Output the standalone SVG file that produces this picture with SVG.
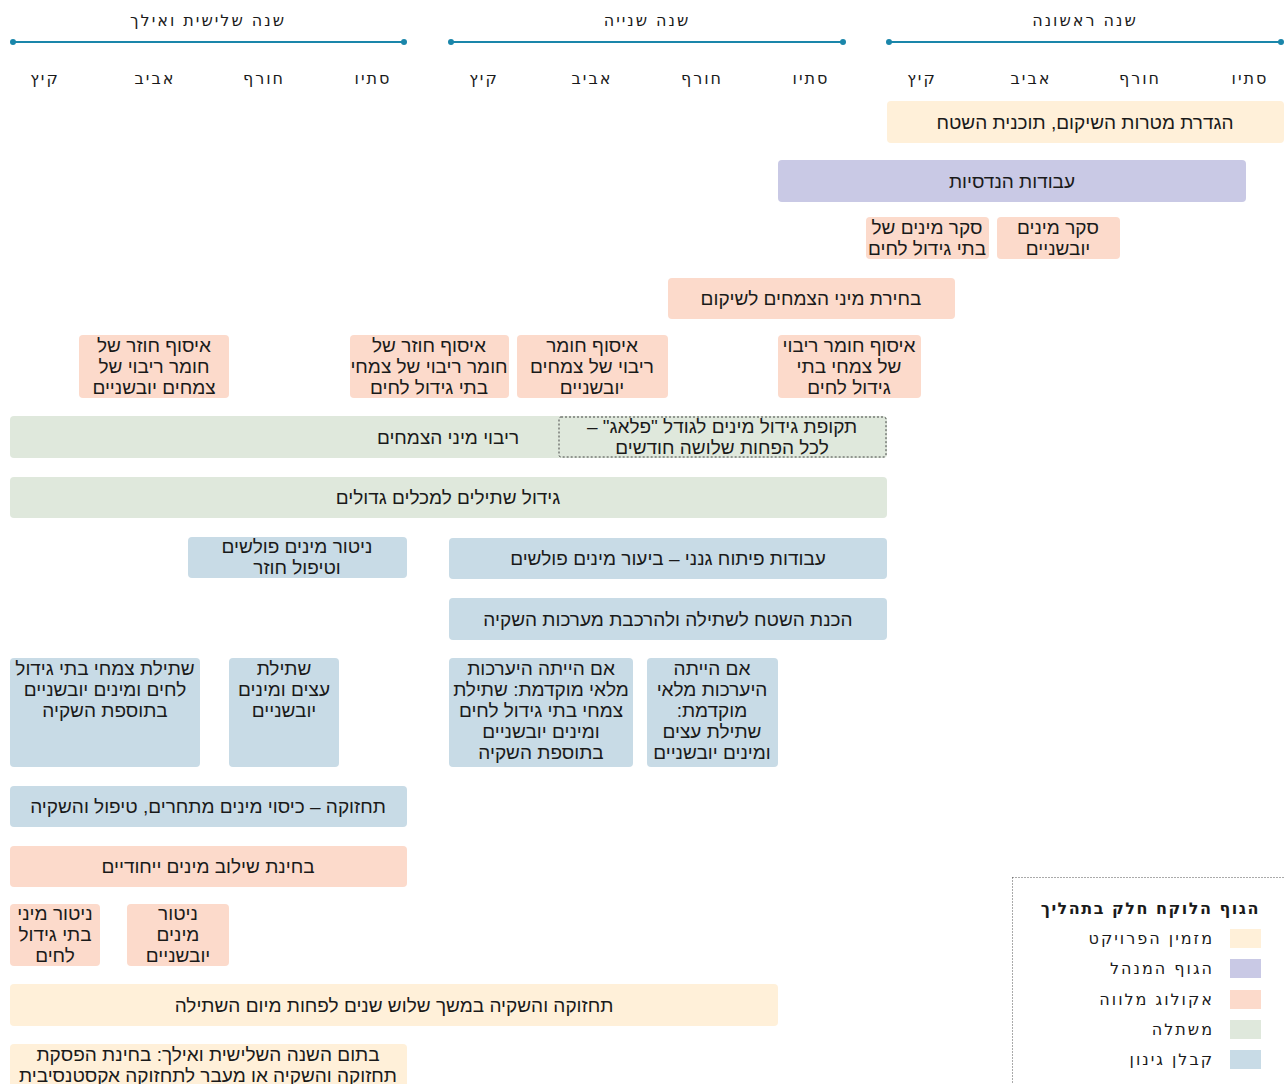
<svg xmlns="http://www.w3.org/2000/svg" width="1284" height="1084" viewBox="0 0 1284 1084">
<style>
  text { font-family: "Liberation Sans", Arial, sans-serif; font-size: 19px; fill: #1a1a1a; }
  .hdr { font-family: "DejaVu Sans", sans-serif; font-size: 16px; letter-spacing: 2px; }
  .lg { font-family: "DejaVu Sans", sans-serif; font-size: 16px; letter-spacing: 2px; }
  .lgt { font-family: "DejaVu Sans", sans-serif; font-size: 16px; letter-spacing: 1.5px; font-weight: bold; }
  .c { text-anchor: middle; }
  .tl { stroke: #1a86aa; stroke-width: 2; }
  .dot { fill: #1a86aa; }
  .cream { fill: #fff0d9; }
  .lav { fill: #c9c9e5; }
  .pink { fill: #fcdacb; }
  .green { fill: #dfe8dc; }
  .blue { fill: #c8dbe6; }
</style>

<g id="header">
  <text class="hdr c" x="208" y="26" direction="rtl">שנה שלישית ואילך</text>
  <text class="hdr c" x="647" y="26" direction="rtl">שנה שנייה</text>
  <text class="hdr c" x="1085" y="26" direction="rtl">שנה ראשונה</text>
  <line class="tl" x1="13" y1="42" x2="404" y2="42"/>
  <circle class="dot" cx="13" cy="42" r="3"/><circle class="dot" cx="404" cy="42" r="3"/>
  <line class="tl" x1="451" y1="42" x2="843" y2="42"/>
  <circle class="dot" cx="451" cy="42" r="3"/><circle class="dot" cx="843" cy="42" r="3"/>
  <line class="tl" x1="889" y1="42" x2="1281" y2="42"/>
  <circle class="dot" cx="889" cy="42" r="3"/><circle class="dot" cx="1281" cy="42" r="3"/>
  <g class="seasons">
    <text class="hdr c" x="373" y="84">סתיו</text>
    <text class="hdr c" x="264" y="84">חורף</text>
    <text class="hdr c" x="155" y="84">אביב</text>
    <text class="hdr c" x="45" y="84">קיץ</text>
    <text class="hdr c" x="811" y="84">סתיו</text>
    <text class="hdr c" x="702" y="84">חורף</text>
    <text class="hdr c" x="592" y="84">אביב</text>
    <text class="hdr c" x="484" y="84">קיץ</text>
    <text class="hdr c" x="1250" y="84">סתיו</text>
    <text class="hdr c" x="1140" y="84">חורף</text>
    <text class="hdr c" x="1031" y="84">אביב</text>
    <text class="hdr c" x="922" y="84">קיץ</text>
  </g>
</g>

<g id="connectors"></g>

<g id="n-goals">
  <rect class="cream" x="887" y="101" width="397" height="42" rx="4"/>
  <text class="c" x="1085" y="129" direction="rtl">הגדרת מטרות השיקום, תוכנית השטח</text>
</g>
<g id="n-engineering">
  <rect class="lav" x="778" y="160" width="468" height="42" rx="4"/>
  <text class="c" x="1012" y="188" direction="rtl">עבודות הנדסיות</text>
</g>
<g id="n-survey-dry">
  <rect class="pink" x="997" y="217" width="123" height="42" rx="4"/>
  <text class="c" x="1058" y="234" direction="rtl">סקר מינים</text>
  <text class="c" x="1058" y="255" direction="rtl">יובשניים</text>
</g>
<g id="n-survey-wet">
  <rect class="pink" x="866" y="217" width="123" height="42" rx="4"/>
  <text class="c" x="927" y="234" direction="rtl">סקר מינים של</text>
  <text class="c" x="927" y="255" direction="rtl">בתי גידול לחים</text>
</g>
<g id="n-select">
  <rect class="pink" x="668" y="278" width="287" height="41" rx="4"/>
  <text class="c" x="811" y="305" direction="rtl">בחירת מיני הצמחים לשיקום</text>
</g>
<g id="n-collect-wet">
  <rect class="pink" x="778" y="335" width="143" height="63" rx="4"/>
  <text class="c" x="849" y="352" direction="rtl">איסוף חומר ריבוי</text>
  <text class="c" x="849" y="373" direction="rtl">של צמחי בתי</text>
  <text class="c" x="849" y="394" direction="rtl">גידול לחים</text>
</g>
<g id="n-collect-dry">
  <rect class="pink" x="517" y="335" width="151" height="63" rx="4"/>
  <text class="c" x="592" y="352" direction="rtl">איסוף חומר</text>
  <text class="c" x="592" y="373" direction="rtl">ריבוי של צמחים</text>
  <text class="c" x="592" y="394" direction="rtl">יובשניים</text>
</g>
<g id="n-recollect-wet">
  <rect class="pink" x="350" y="335" width="159" height="63" rx="4"/>
  <text class="c" x="429" y="352" direction="rtl">איסוף חוזר של</text>
  <text class="c" x="429" y="373" direction="rtl">חומר ריבוי של צמחי</text>
  <text class="c" x="429" y="394" direction="rtl">בתי גידול לחים</text>
</g>
<g id="n-recollect-dry">
  <rect class="pink" x="79" y="335" width="150" height="63" rx="4"/>
  <text class="c" x="154" y="352" direction="rtl">איסוף חוזר של</text>
  <text class="c" x="154" y="373" direction="rtl">חומר ריבוי של</text>
  <text class="c" x="154" y="394" direction="rtl">צמחים יובשניים</text>
</g>
<g id="n-propagation">
  <rect class="green" x="10" y="416" width="877" height="42" rx="4"/>
  <text class="c" x="448" y="444" direction="rtl">ריבוי מיני הצמחים</text>
  <rect x="559" y="417" width="327" height="40" rx="2" fill="none" stroke="#444" stroke-width="1" stroke-dasharray="2,2"/>
  <text class="c" x="722" y="433" direction="rtl">תקופת גידול מינים לגודל "פלאג" –</text>
  <text class="c" x="722" y="454" direction="rtl">לכל הפחות שלושה חודשים</text>
</g>
<g id="n-large-containers">
  <rect class="green" x="10" y="477" width="877" height="41" rx="4"/>
  <text class="c" x="448" y="504" direction="rtl">גידול שתילים למכלים גדולים</text>
</g>
<g id="n-invasive-monitor">
  <rect class="blue" x="188" y="537" width="219" height="41" rx="4"/>
  <text class="c" x="297" y="553" direction="rtl">ניטור מינים פולשים</text>
  <text class="c" x="297" y="574" direction="rtl">וטיפול חוזר</text>
</g>
<g id="n-landscape">
  <rect class="blue" x="449" y="538" width="438" height="41" rx="4"/>
  <text class="c" x="668" y="565" direction="rtl">עבודות פיתוח גנני – ביעור מינים פולשים</text>
</g>
<g id="n-prepare">
  <rect class="blue" x="449" y="598" width="438" height="42" rx="4"/>
  <text class="c" x="668" y="626" direction="rtl">הכנת השטח לשתילה ולהרכבת מערכות השקיה</text>
</g>
<g id="n-early-trees">
  <rect class="blue" x="647" y="658" width="131" height="109" rx="4"/>
  <text class="c" x="712" y="675" direction="rtl">אם הייתה</text>
  <text class="c" x="712" y="696" direction="rtl">היערכות מלאי</text>
  <text class="c" x="712" y="717" direction="rtl">מוקדמת:</text>
  <text class="c" x="712" y="738" direction="rtl">שתילת עצים</text>
  <text class="c" x="712" y="759" direction="rtl">ומינים יובשניים</text>
</g>
<g id="n-early-wet">
  <rect class="blue" x="449" y="658" width="184" height="109" rx="4"/>
  <text class="c" x="541" y="675" direction="rtl">אם הייתה היערכות</text>
  <text class="c" x="541" y="696" direction="rtl">מלאי מוקדמת: שתילת</text>
  <text class="c" x="541" y="717" direction="rtl">צמחי בתי גידול לחים</text>
  <text class="c" x="541" y="738" direction="rtl">ומינים יובשניים</text>
  <text class="c" x="541" y="759" direction="rtl">בתוספת השקיה</text>
</g>
<g id="n-plant-trees">
  <rect class="blue" x="229" y="658" width="110" height="109" rx="4"/>
  <text class="c" x="284" y="675" direction="rtl">שתילת</text>
  <text class="c" x="284" y="696" direction="rtl">עצים ומינים</text>
  <text class="c" x="284" y="717" direction="rtl">יובשניים</text>
</g>
<g id="n-plant-wet">
  <rect class="blue" x="10" y="658" width="190" height="109" rx="4"/>
  <text class="c" x="105" y="675" direction="rtl">שתילת צמחי בתי גידול</text>
  <text class="c" x="105" y="696" direction="rtl">לחים ומינים יובשניים</text>
  <text class="c" x="105" y="717" direction="rtl">בתוספת השקיה</text>
</g>
<g id="n-maintenance">
  <rect class="blue" x="10" y="786" width="397" height="41" rx="4"/>
  <text class="c" x="208" y="813" direction="rtl">תחזוקה – כיסוי מינים מתחרים, טיפול והשקיה</text>
</g>
<g id="n-unique">
  <rect class="pink" x="10" y="846" width="397" height="41" rx="4"/>
  <text class="c" x="208" y="873" direction="rtl">בחינת שילוב מינים ייחודיים</text>
</g>
<g id="n-monitor-wet">
  <rect class="pink" x="10" y="904" width="90" height="62" rx="4"/>
  <text class="c" x="55" y="920" direction="rtl">ניטור מיני</text>
  <text class="c" x="55" y="941" direction="rtl">בתי גידול</text>
  <text class="c" x="55" y="962" direction="rtl">לחים</text>
</g>
<g id="n-monitor-dry">
  <rect class="pink" x="127" y="904" width="102" height="62" rx="4"/>
  <text class="c" x="178" y="920" direction="rtl">ניטור</text>
  <text class="c" x="178" y="941" direction="rtl">מינים</text>
  <text class="c" x="178" y="962" direction="rtl">יובשניים</text>
</g>
<g id="n-three-years">
  <rect class="cream" x="10" y="984" width="768" height="42" rx="4"/>
  <text class="c" x="394" y="1012" direction="rtl">תחזוקה והשקיה במשך שלוש שנים לפחות מיום השתילה</text>
</g>
<g id="n-end-year3">
  <rect class="cream" x="10" y="1044" width="397" height="50" rx="4"/>
  <text class="c" x="208" y="1061" direction="rtl">בתום השנה השלישית ואילך: בחינת הפסקת</text>
  <text class="c" x="208" y="1082" direction="rtl">תחזוקה והשקיה או מעבר לתחזוקה אקסטנסיבית</text>
</g>

<g id="legend">
  <rect x="1012.5" y="877.5" width="280" height="220" fill="none" stroke="#555" stroke-width="1" stroke-dasharray="1,2"/>
  <text class="lgt" x="1260" y="914" direction="rtl" text-anchor="start">הגוף הלוקח חלק בתהליך</text>
  <rect class="cream" x="1230" y="929" width="31" height="19"/>
  <text class="lg" x="1214" y="944" direction="rtl" text-anchor="start">מזמין הפרויקט</text>
  <rect class="lav" x="1230" y="959" width="31" height="19"/>
  <text class="lg" x="1214" y="974" direction="rtl" text-anchor="start">הגוף המנהל</text>
  <rect class="pink" x="1230" y="990" width="31" height="19"/>
  <text class="lg" x="1214" y="1005" direction="rtl" text-anchor="start">אקולוג מלווה</text>
  <rect class="green" x="1230" y="1020" width="31" height="19"/>
  <text class="lg" x="1214" y="1035" direction="rtl" text-anchor="start">משתלה</text>
  <rect class="blue" x="1230" y="1050" width="31" height="19"/>
  <text class="lg" x="1214" y="1065" direction="rtl" text-anchor="start">קבלן גינון</text>
</g>
</svg>
